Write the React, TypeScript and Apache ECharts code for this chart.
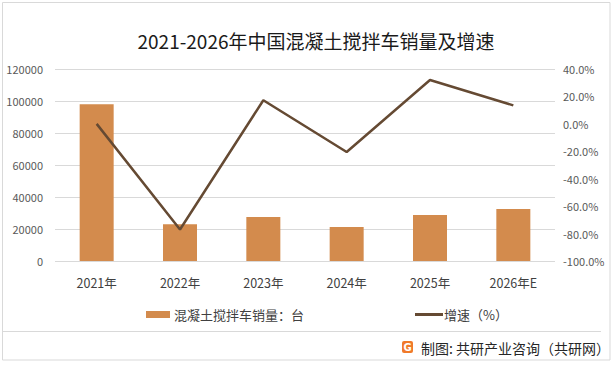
import React, { useEffect, useRef } from "react";
import * as echarts from "echarts";

const categories = ["2021年", "2022年", "2023年", "2024年", "2025年", "2026年E"];
const salesValues = [98000, 23000, 27500, 21300, 28700, 32500];
const growthValues = [0, -77, 17.2, -20.5, 32, 13.5];
const leftTicks = { min: 0, max: 120000, interval: 20000 };
const rightTicks = { min: -100, max: 40, interval: 20 };
const barName = "混凝土搅拌车销量：台";
const lineName = "增速（%）";
const titleText = "2021-2026年中国混凝土搅拌车销量及增速";
const footerText = "制图: 共研产业咨询（共研网）";

const FONT = '"Noto Sans CJK SC", "Noto Sans", sans-serif';

export default function App() {
  const ref = useRef<HTMLDivElement>(null);
  useEffect(() => {
    document.body.style.margin = "0";
    const chart = echarts.init(ref.current!, null, { renderer: "svg" });
    chart.setOption({
      animation: false,
      backgroundColor: "#ffffff",
      textStyle: { fontFamily: FONT },
      title: {
        text: titleText,
        left: 311,
        textAlign: "center",
        top: 26,
        textStyle: { fontSize: 19, fontWeight: "normal", color: "#1a1a1a", fontFamily: FONT },
      },
      grid: { left: 55, right: 60, top: 69, bottom: 104 },
      legend: [
        {
          data: [{ name: barName, icon: "rect" }],
          left: 141,
          top: 303,
          itemWidth: 24,
          itemHeight: 7,
          itemGap: 4,
          textStyle: { fontSize: 13, color: "#404040", fontFamily: FONT, padding: [0, 0, 0, -1] },
        },
        {
          data: [{ name: lineName, icon: "rect" }],
          left: 410,
          top: 303,
          itemWidth: 28,
          itemHeight: 3,
          textStyle: { fontSize: 13, color: "#404040", fontFamily: FONT, padding: [0, 0, 0, -4] },
        },
      ],
      xAxis: {
        type: "category",
        data: categories,
        axisLine: { show: false },
        axisTick: { show: false },
        axisLabel: { color: "#404040", fontSize: 12.5, margin: 15, fontFamily: FONT },
      },
      yAxis: [
        {
          type: "value",
          ...leftTicks,
          axisLine: { show: false },
          axisTick: { show: false },
          axisLabel: {
            color: "#595959",
            fontSize: 11,
            margin: 12,
            formatter: (v: number) => String(v),
          },
          splitLine: { lineStyle: { color: "#d9d9d9", width: 1 } },
        },
        {
          type: "value",
          ...rightTicks,
          axisLine: { show: false },
          axisTick: { show: false },
          axisLabel: {
            color: "#595959",
            fontSize: 11,
            margin: 8,
            formatter: (v: number) => v.toFixed(1) + "%",
          },
          splitLine: { show: false },
        },
      ],
      series: [
        {
          name: barName,
          type: "bar",
          data: salesValues,
          barWidth: 34,
          itemStyle: { color: "#D38B4D" },
          yAxisIndex: 0,
        },
        {
          name: lineName,
          type: "line",
          data: growthValues,
          yAxisIndex: 1,
          symbol: "none",
          lineStyle: { color: "#654A33", width: 2.5 },
          itemStyle: { color: "#654A33" },
        },
      ],
      graphic: [
        {
          type: "rect",
          shape: { x: 2.5, y: 2.5, width: 607.5, height: 357.5 },
          style: { fill: "none", stroke: "#d9d9d9", lineWidth: 1 },
          silent: true,
        },
        {
          type: "line",
          shape: { x1: 3, y1: 331.5, x2: 601, y2: 331.5 },
          style: { stroke: "#d9d9d9", lineWidth: 1 },
          silent: true,
        },
        {
          type: "rect",
          shape: { x: 402, y: 341, width: 11, height: 12, r: 2 },
          style: { fill: "#F07A2A" },
          silent: true,
        },
        {
          type: "text",
          x: 407.5,
          y: 347.5,
          style: {
            text: "G",
            fill: "#ffffff",
            font: 'bold 10px "DejaVu Sans", sans-serif',
            align: "center",
            verticalAlign: "middle",
          },
          silent: true,
        },
        {
          type: "text",
          x: 421,
          y: 348,
          style: {
            text: footerText,
            fill: "#262626",
            font: '14px "Noto Sans CJK SC", sans-serif',
            verticalAlign: "middle",
          },
          silent: true,
        },
      ],
    });
    return () => chart.dispose();
  }, []);
  return <div ref={ref} style={{ width: 615, height: 365 }} />;
}
